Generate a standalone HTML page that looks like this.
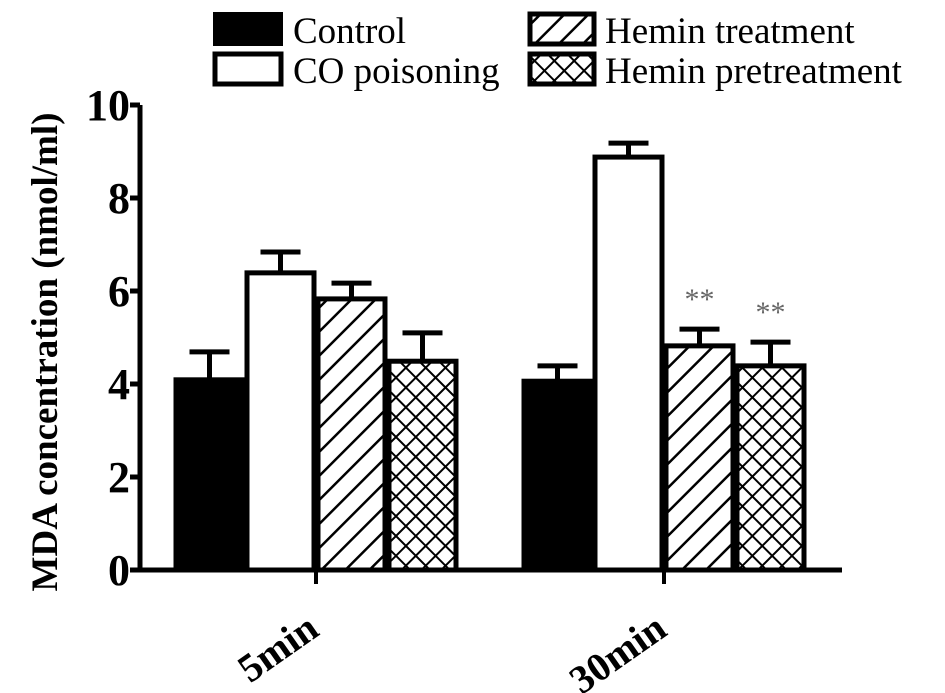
<!DOCTYPE html>
<html><head><meta charset="utf-8"><style>
html,body{margin:0;padding:0;background:#fff}
svg{display:block;font-family:"Liberation Serif",serif}
</style></head><body>
<svg id="chart" width="945" height="693" viewBox="0 0 945 693" xmlns="http://www.w3.org/2000/svg">
<defs>
<pattern id="diag" patternUnits="userSpaceOnUse" width="17" height="17" patternTransform="rotate(45)">
<rect width="17" height="17" fill="#fff"/><line x1="0" y1="0" x2="0" y2="17" stroke="#000" stroke-width="5"/>
</pattern>
<pattern id="cross" patternUnits="userSpaceOnUse" width="14" height="14" patternTransform="rotate(45)">
<rect width="14" height="14" fill="#fff"/><line x1="0" y1="0" x2="0" y2="14" stroke="#000" stroke-width="4"/><line x1="0" y1="0" x2="14" y2="0" stroke="#000" stroke-width="4"/>
</pattern>
</defs>
<g id="legend">
<g><rect x="215" y="14" width="66" height="30" fill="#000" stroke="#000" stroke-width="4"/><text x="293" y="43" font-size="37">Control</text></g>
<g><rect x="215" y="54" width="66" height="30" fill="#fff" stroke="#000" stroke-width="5"/><text x="293" y="83" font-size="37">CO poisoning</text></g>
<g><rect x="530" y="14" width="64" height="30" fill="url(#diag)" stroke="#000" stroke-width="5"/><text x="605" y="43" font-size="37">Hemin treatment</text></g>
<g><rect x="530" y="54" width="64" height="30" fill="url(#cross)" stroke="#000" stroke-width="5"/><text x="605" y="83" font-size="37">Hemin pretreatment</text></g>
</g>
<g id="plot"></g>
<text transform="translate(57,352) rotate(-90)" text-anchor="middle" font-size="37" font-weight="bold">MDA concentration (nmol/ml)</text>
</svg>
<script>
const categories = ["5min", "30min"];
const seriesNames = ["Control", "CO poisoning", "Hemin treatment", "Hemin pretreatment"];
const controlVals = [4.09, 4.06];
const coVals = [6.39, 8.88];
const treatVals = [5.83, 4.82];
const pretreatVals = [4.49, 4.39];
const controlErr = [0.60, 0.33];
const coErr = [0.45, 0.30];
const treatErr = [0.34, 0.36];
const pretreatErr = [0.61, 0.51];
const significance = [["", "", "", ""], ["", "", "**", "**"]];
const yTicks = [0, 2, 4, 6, 8, 10];

const NS = "http://www.w3.org/2000/svg";
const plot = document.getElementById("plot");
const y0 = 570, pxPer = 46.5, xLeft = 140, xRight = 842;
const groupCenters = [316, 664];
const barW = 71;
function yScale(v){ return y0 - v * pxPer; }
function xBar(g, s){ return groupCenters[g] + (s - 2) * barW; }
function mk(tag, attrs){ const e = document.createElementNS(NS, tag); for (const k in attrs) e.setAttribute(k, attrs[k]); plot.appendChild(e); return e; }

const vals = [controlVals, coVals, treatVals, pretreatVals];
const errs = [controlErr, coErr, treatErr, pretreatErr];
const fills = ["#000", "#fff", "url(#diag)", "url(#cross)"];

for (let g = 0; g < categories.length; g++) {
  for (let s = 0; s < 4; s++) {
    const v = vals[s][g], top = yScale(v), x = xBar(g, s);
    const et = yScale(v + errs[s][g]);
    const cx = x + barW / 2;
    const el = mk("line", {x1: cx, x2: cx, y1: top, y2: et, stroke: "#000", "stroke-width": 5});
    
    
    const cap = mk("line", {x1: cx - 20, x2: cx + 20, y1: et, y2: et, stroke: "#000", "stroke-width": 5});
    
    
    const r = mk("rect", {x: x + 2, y: top, width: barW - 4, height: y0 - top, fill: fills[s], stroke: "#000", "stroke-width": 5});
    
    
    if (significance[g][s]) {
      const t = mk("text", {x: cx, y: et - 20, "text-anchor": "middle", "font-size": 30, fill: "#666"});
      t.textContent = significance[g][s];
      
      
    }
  }
}
const ya = mk("line", {x1: xLeft, x2: xLeft, y1: yScale(10), y2: y0 + 2, stroke: "#000", "stroke-width": 5});


const xa = mk("line", {x1: xLeft - 10, x2: xRight, y1: y0, y2: y0, stroke: "#000", "stroke-width": 5});


for (const t of yTicks) {
  const yy = yScale(t);
  const tk = mk("line", {x1: xLeft - 10, x2: xLeft, y1: yy, y2: yy, stroke: "#000", "stroke-width": 5});
  
  
  const lb = mk("text", {x: xLeft - 10, y: yy + 15, "text-anchor": "end", "font-size": 44, "font-weight": "bold"});
  lb.textContent = t;
  
  
}
for (let g = 0; g < categories.length; g++) {
  const cx = groupCenters[g];
  const tk = mk("line", {x1: cx, x2: cx, y1: y0, y2: y0 + 14, stroke: "#000", "stroke-width": 4});
  
  
  const lb = mk("text", {transform: "translate(" + (cx + 5) + "," + (y0 + 64) + ") rotate(-35)", "text-anchor": "end", "font-size": 40, "font-weight": "bold"});
  lb.textContent = categories[g];
  
  
}
</script>
</body></html>
